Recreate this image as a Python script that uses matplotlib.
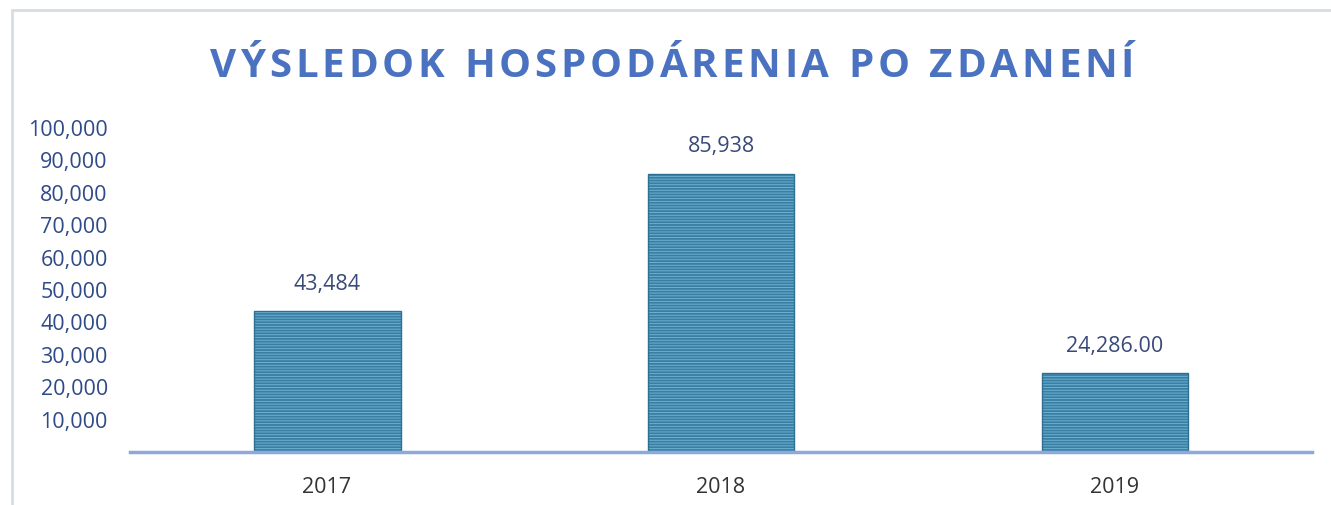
import matplotlib.pyplot as plt
from matplotlib.patches import Rectangle

years = ['2017', '2018', '2019']
values = [43484, 85938, 24286]
value_labels = ['43,484', '85,938', '24,286.00']
y_ticks = [10000, 20000, 30000, 40000, 50000, 60000, 70000, 80000, 90000, 100000]
title = 'VÝSLEDOK HOSPODÁRENIA PO ZDANENÍ'

plt.rcParams['font.family'] = ['Open Sans', 'DejaVu Sans']
plt.rcParams['hatch.linewidth'] = 0.7

fig = plt.figure(figsize=(13.31, 5.05), dpi=100)
ax = fig.add_axes([0.0977, 0.105, 0.888, 0.6415])

x = range(len(years))
# striped fill (hatch takes the edge colour), then a thin darker outline
bars = ax.bar(x, values, width=0.373, color='#3a7fa2', hatch='------',
              edgecolor='#6cb2d6', linewidth=0)
ax.bar(x, values, width=0.373, fill=False, edgecolor='#2f7090', linewidth=1)

for b, lab in zip(bars, value_labels):
    ax.text(b.get_x() + b.get_width() / 2, b.get_height() + 5000, lab,
            ha='center', va='bottom', fontsize=15.5, color='#3a4a78')

ax.set_xlim(-0.5, 2.5)
ax.set_ylim(0, 100000)
ax.set_yticks(y_ticks)
ax.set_yticklabels([f'{v:,}' for v in y_ticks])
ax.set_xticks(list(x))
ax.set_xticklabels(years)
ax.tick_params(axis='y', length=0, labelsize=15.5, labelcolor='#2f4a88', pad=16)
ax.tick_params(axis='x', length=0, labelsize=15.5, labelcolor='#333333', pad=18)

for s in ['top', 'right', 'left']:
    ax.spines[s].set_visible(False)
ax.spines['bottom'].set_color('#8ea8d8')
ax.spines['bottom'].set_linewidth(2.5)

# title with letter spacing, drawn char by char
renderer = fig.canvas.get_renderer()
fs = 29
spacing = 3.8  # extra px between letters
widths = []
for ch in title:
    t = fig.text(0, 0, ch if ch != ' ' else 'n', fontsize=fs, fontweight='bold')
    widths.append(t.get_window_extent(renderer).width * (0.45 if ch == ' ' else 1))
    t.remove()
total = sum(widths) + spacing * (len(title) - 1)
W = fig.get_figwidth() * fig.dpi
xpos = 0.5 * W + 7 - total / 2
for ch, w in zip(title, widths):
    if ch != ' ':
        fig.text(xpos / W, 0.868, ch, ha='left', va='center', fontsize=fs,
                 fontweight='bold', color='#4a72c0')
    xpos += w + spacing

# faint frame like the scanned chart border
fig.patches.append(Rectangle((0.009, -0.01), 1.0, 0.99, transform=fig.transFigure,
                             fill=False, edgecolor='#d8dde4', linewidth=2))

fig.savefig('out.png', dpi=100)
